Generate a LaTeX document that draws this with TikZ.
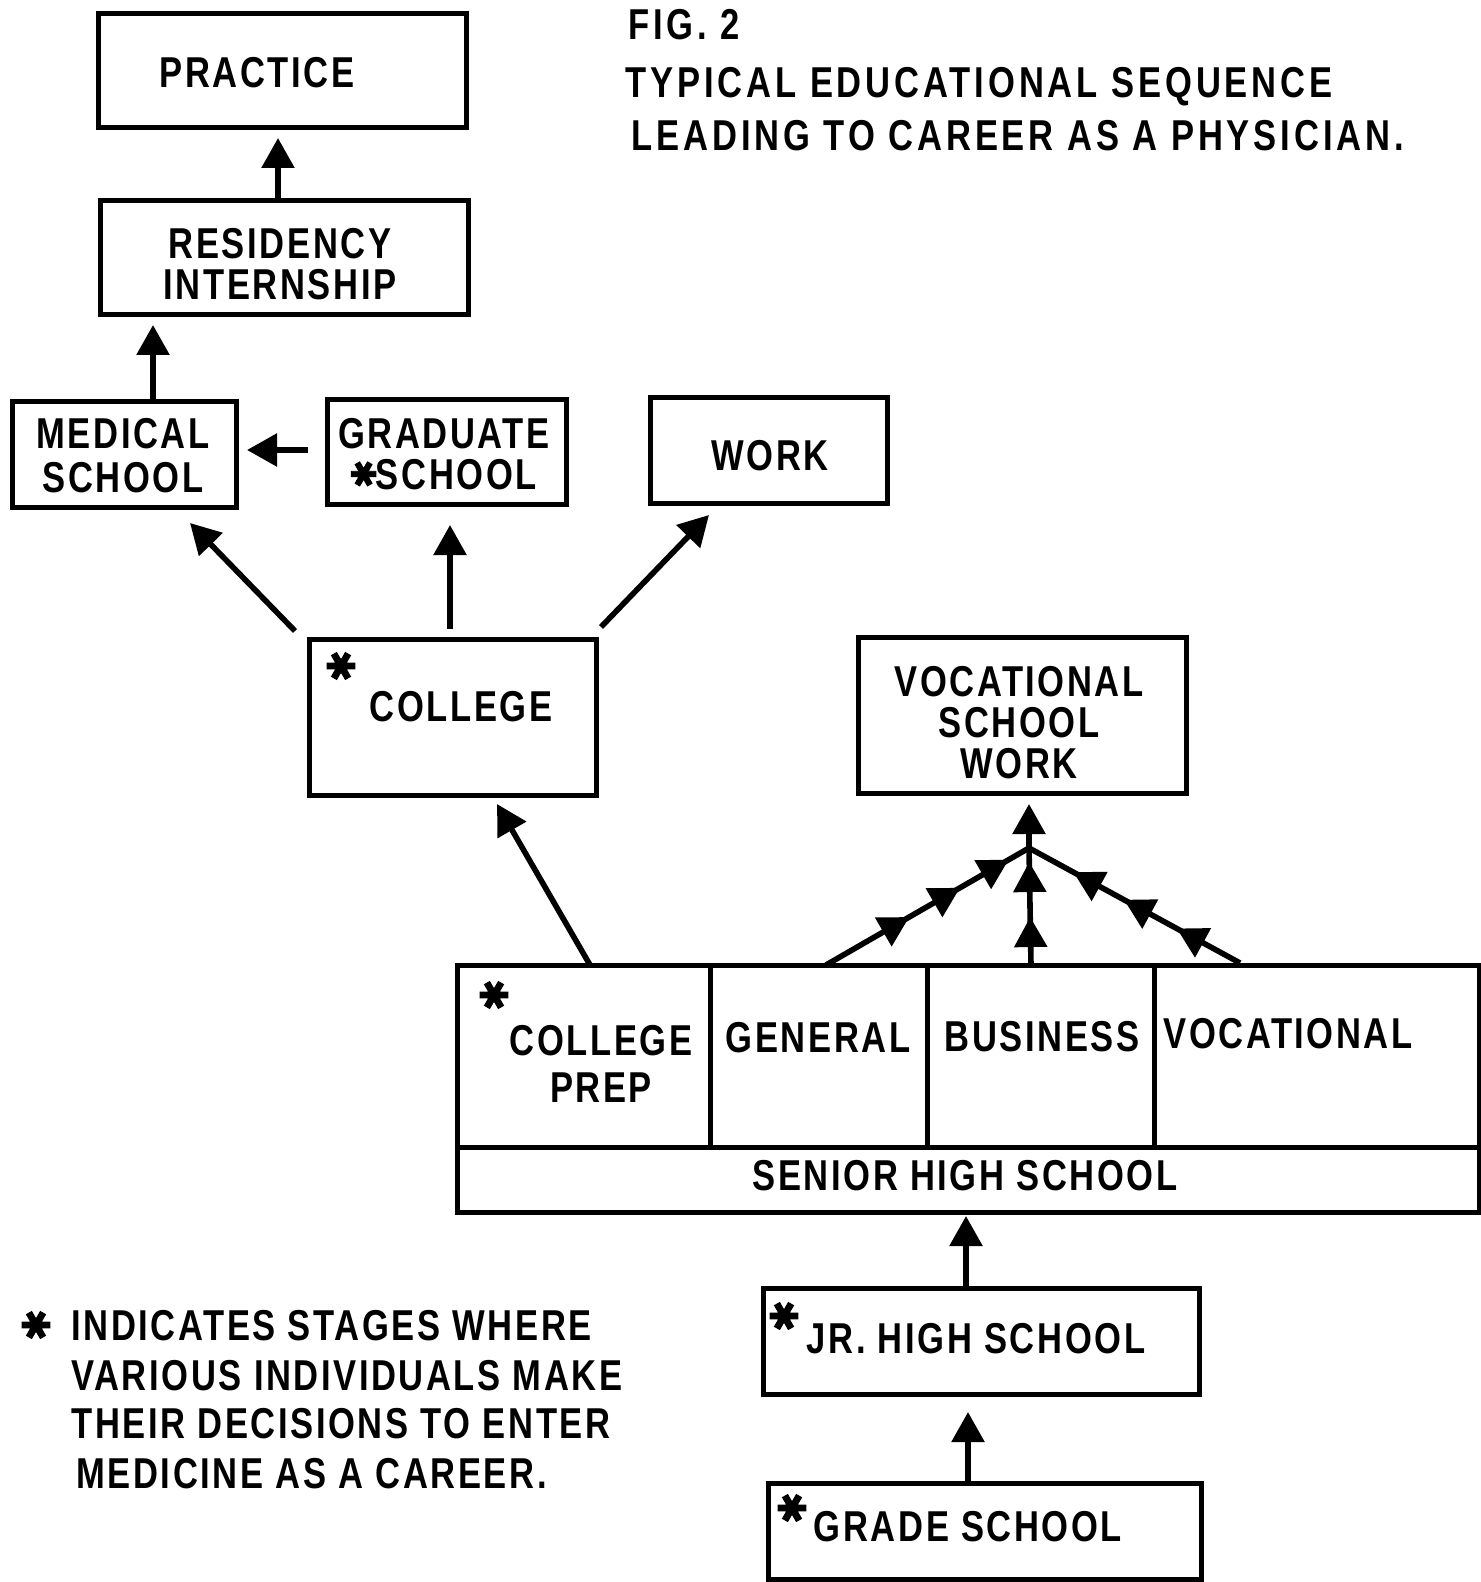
\documentclass[tikz,border=0pt]{standalone}
\usepackage{fontspec}
\setmainfont{Liberation Sans}[FakeStretch=0.8,LetterSpace=6]
\newfontfamily\starfont{DejaVu Sans}[FakeBold=2.5]
\usetikzlibrary{arrows.meta,decorations.markings}
\newcommand\mybox[5]{\node[boxst, minimum width={(#4-#2)*0.5pt}, minimum height={(#5-#3)*0.5pt}] (#1) at ({(#2+#4)/2},{(#3+#5)/2}) {};}
\newcommand\inlinestar{\raisebox{0.6pt}{\rotatebox{90}{\starfont\bfseries\fontsize{17}{17}\selectfont ✱}}}
\begin{document}
\begin{tikzpicture}[x=0.5pt,y=-0.5pt,
  boxst/.style={draw, line width=2.5pt, inner sep=0pt},
  lbl/.style={font=\fontsize{21.6}{20.5}\selectfont\bfseries, align=center, inner sep=0pt},
  ttl/.style={font=\fontsize{21.6}{20.5}\selectfont\bfseries\addfontfeature{LetterSpace=9}, inner sep=0pt},
  starst/.style={font=\starfont\bfseries\fontsize{19}{19}\selectfont, inner sep=0pt, rotate=90},
  arr/.style={line width=2.8pt, -{Triangle[length=15pt,width=16pt]}},
  conn/.style={line width=2.8pt}
]
\useasboundingbox (0,0) rectangle (1480,1582);

% title
\node[ttl, anchor=base west] (fig) at (628,40) {FIG. 2};
\node[ttl, anchor=base west] (ttl1) at (625,98) {TYPICAL EDUCATIONAL SEQUENCE};
\node[ttl, anchor=base west] (ttl2) at (631,151) {LEADING TO CAREER AS A PHYSICIAN.};

% boxes
\mybox{prac}{98}{14}{466}{128}
\mybox{res}{100}{201}{468}{315}
\mybox{med}{12}{402}{236}{508}
\mybox{grad}{327}{400}{566}{505}
\mybox{work}{650}{398}{887}{504}
\mybox{coll}{309}{639}{596}{795}
\mybox{voc}{858}{637}{1186}{793}
\mybox{shs}{457}{965}{1479}{1212}
\mybox{jhs}{763}{1288}{1199}{1394}
\mybox{gs}{768}{1483}{1201}{1579}

% senior high internal lines
\coordinate (mL) at (457,1147);
\coordinate (mR) at (1479,1147);
\draw[line width=2.5pt] (mL) -- (mR);
\coordinate (d1) at (710,1147);
\coordinate (d2) at (927,1147);
\coordinate (d3) at (1154,1147);
\draw[line width=2.5pt] (d1) -- (shs.north -| d1);
\draw[line width=2.5pt] (d2) -- (shs.north -| d2);
\draw[line width=2.5pt] (d3) -- (shs.north -| d3);

% labels
\node[lbl] (tprac) at (257,73) {PRACTICE};
\node[lbl] (tres) at (280,264) {RESIDENCY\\INTERNSHIP};
\node[lbl, font=\fontsize{21.6}{22}\selectfont\bfseries] (tmed) at (123,456) {MEDICAL\\SCHOOL};
\node[lbl] (tgrad) at (444,454) {GRADUATE\\\inlinestar SCHOOL};
\node[lbl] (twork) at (770,456) {WORK};
\node[lbl] (tcoll) at (461,707) {COLLEGE};
\node[starst] (scoll) at (341,666) {✱};
\node[lbl] (tvoc) at (1019,723) {VOCATIONAL\\SCHOOL\\WORK};
\node[lbl, font=\fontsize{21.6}{23.5}\selectfont\bfseries] (tcp) at (601,1064) {COLLEGE\\PREP};
\node[starst] (scp) at (494,995) {✱};
\node[lbl] (tgen) at (818,1038) {GENERAL};
\node[lbl] (tbus) at (1042,1037) {BUSINESS};
\node[lbl] (tvocl) at (1288,1034) {VOCATIONAL};
\node[lbl] (tshs) at (965,1176) {SENIOR HIGH SCHOOL};
\node[lbl] (tjhs) at (976,1339) {JR. HIGH SCHOOL};
\node[starst] (sjhs) at (784,1316) {✱};
\node[lbl] (tgs) at (968,1527) {GRADE SCHOOL};
\node[starst] (sgs) at (792,1508) {✱};

% legend
\node[starst] (sleg) at (36,1325) {✱};
\node[lbl, anchor=base west] (leg1) at (71,1340) {INDICATES STAGES WHERE};
\node[lbl, anchor=base west] (leg2) at (71,1390) {VARIOUS INDIVIDUALS MAKE};
\node[lbl, anchor=base west] (leg3) at (71,1438) {THEIR DECISIONS TO ENTER};
\node[lbl, anchor=base west] (leg4) at (76,1488) {MEDICINE AS A CAREER.};

% arrows
\coordinate (t1) at (278,138);
\draw[arr] (res.north -| t1) -- (t1);
\coordinate (t2) at (153,325);
\draw[arr] (med.north -| t2) -- (t2);
\coordinate (t3) at (247,450);
\draw[arr, shorten <=8.5pt] (grad.west |- t3) -- (t3);
\coordinate (s4) at (295,631);
\coordinate (t4) at (190,523);
\draw[arr] (s4) -- (t4);
\coordinate (t5) at (450,525);
\draw[arr, shorten <=4pt] (coll.north -| t5) -- (t5);
\coordinate (s6) at (601,627);
\coordinate (t6) at (709,515);
\draw[arr] (s6) -- (t6);
\coordinate (s7) at (590,965);
\coordinate (t7) at (497,804);
\draw[arr] (s7) -- (t7);
\coordinate (t8) at (966,1216);
\draw[arr] (jhs.north -| t8) -- (t8);
\coordinate (t9) at (968,1412);
\draw[arr] (gs.north -| t9) -- (t9);

% vocational convergence
\coordinate (apex) at (1029,848);
\coordinate (vt) at (1029,804);
\coordinate (vl) at (826,965);
\coordinate (vm) at (1031,965);
\coordinate (vr) at (1240,963);
\draw[conn, postaction={decorate}, decoration={markings,
  mark=at position 0.41 with {\arrow{Triangle[length=15pt,width=16pt]}},
  mark=at position 0.66 with {\arrow{Triangle[length=15pt,width=16pt]}},
  mark=at position 0.90 with {\arrow{Triangle[length=15pt,width=16pt]}}}] (vl) -- (apex);
\draw[conn, postaction={decorate}, decoration={markings,
  mark=at position 0.30 with {\arrow{Triangle[length=15pt,width=16pt]}},
  mark=at position 0.55 with {\arrow{Triangle[length=15pt,width=16pt]}},
  mark=at position 0.79 with {\arrow{Triangle[length=15pt,width=16pt]}}}] (vr) -- (apex);
\draw[conn, postaction={decorate}, decoration={markings,
  mark=at position 0.41 with {\arrow{Triangle[length=15pt,width=16pt]}},
  mark=at position 0.88 with {\arrow{Triangle[length=15pt,width=16pt]}}}] (vm) -- (apex);
\draw[arr] (apex) -- (vt);
\end{tikzpicture}
\end{document}
